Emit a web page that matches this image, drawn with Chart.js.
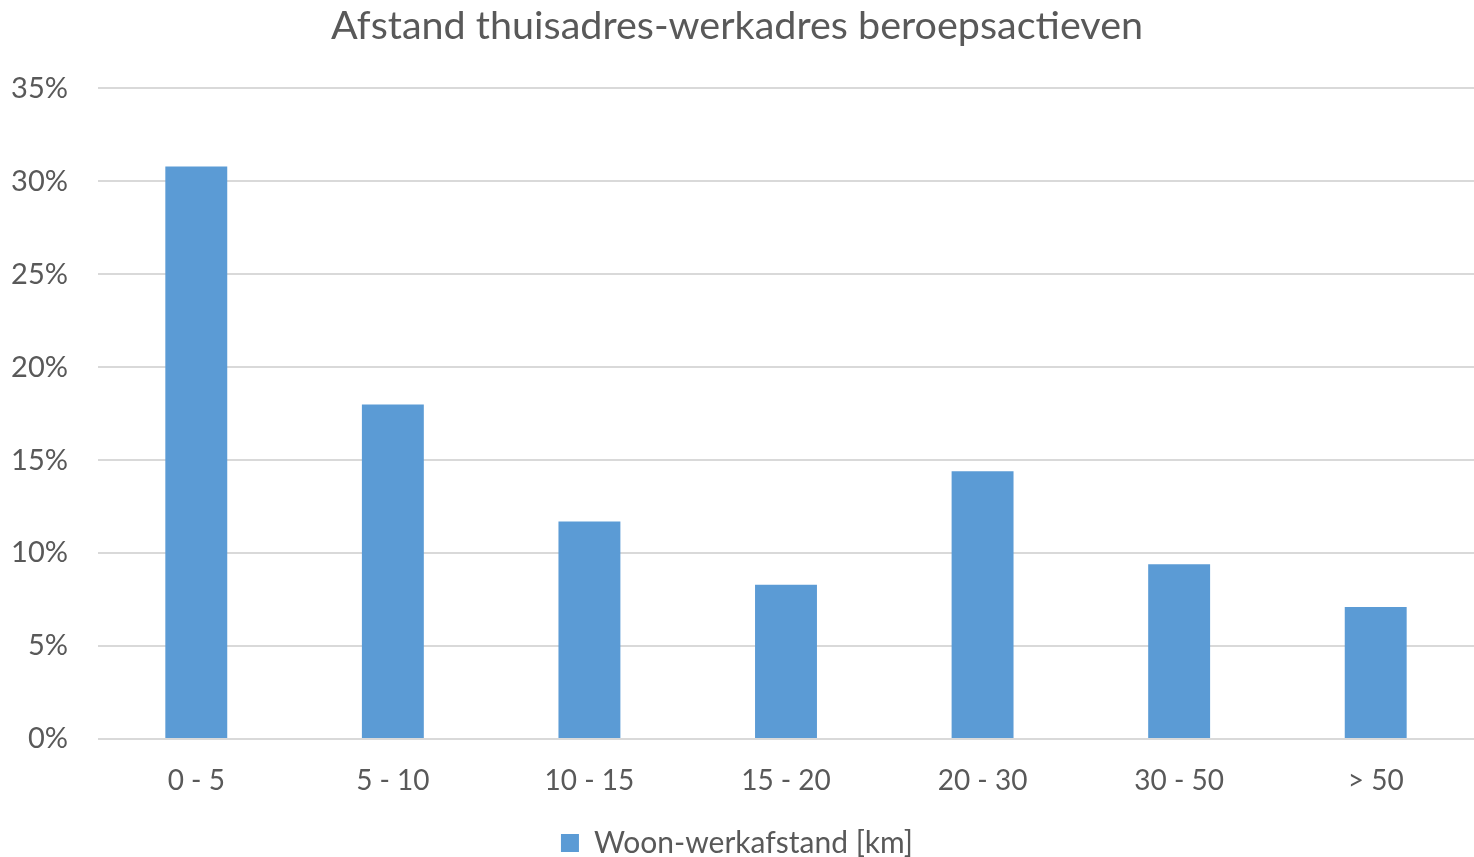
<!DOCTYPE html>
<html>
<head>
<meta charset="utf-8">
<script src="https://cdn.jsdelivr.net/npm/chart.js@4"></script>
<style>
  html, body { margin: 0; padding: 0; background: #fff; }
  #wrap { width: 1474px; height: 857px; }
</style>
</head>
<body>
<div id="wrap"><canvas id="afstandChart" width="1474" height="857"></canvas></div>
<script>
// afstand woon-werk, aandeel beroepsactieven
const categories = ["0 - 5", "5 - 10", "10 - 15", "15 - 20", "20 - 30", "30 - 50", "> 50"];
const shares = [30.8, 18.0, 11.7, 8.3, 14.4, 9.4, 7.1];
const yTicks = [0, 5, 10, 15, 20, 25, 30, 35];

const TEXT = "#595959";
const FONT = "Lato, 'Open Sans', sans-serif";

const ctx = document.getElementById("afstandChart").getContext("2d");
new Chart(ctx, {
  type: "bar",
  data: {
    labels: categories,
    datasets: [{
      label: "Woon-werkafstand [km]",
      data: shares,
      backgroundColor: "#5B9BD5",
      borderWidth: 0,
      categoryPercentage: 1,
      barPercentage: 0.315
    }]
  },
  options: {
    responsive: false,
    animation: false,
    // legend sits lower than chart.js would put it, hence the negative bottom
    layout: { padding: { top: 3, right: 0, left: 0, bottom: -11 } },
    plugins: {
      title: {
        display: true,
        text: "Afstand thuisadres-werkadres beroepsactieven",
        color: TEXT,
        font: { family: FONT, size: 39.5, weight: "normal" },
        padding: { top: 0, bottom: 38 }
      },
      legend: {
        position: "bottom",
        labels: {
          color: TEXT,
          font: { family: FONT, size: 30 },
          boxWidth: 18,
          boxHeight: 18,
          padding: 1
        }
      },
      tooltip: { enabled: false }
    },
    scales: {
      y: {
        min: 0,
        max: 35,
        afterBuildTicks: axis => { axis.ticks = yTicks.map(v => ({ value: v })); },
        afterFit: axis => { axis.width = 98; },
        border: { display: false },
        grid: { color: "#D9D9D9", lineWidth: 2, drawTicks: false },
        ticks: {
          color: TEXT,
          font: { family: FONT, size: 29 },
          padding: 30,
          callback: v => v + "%"
        }
      },
      x: {
        afterFit: axis => { axis.height = 88; },
        border: { display: false },
        grid: { display: false },
        ticks: {
          color: TEXT,
          font: { family: FONT, size: 28 },
          padding: 17
        }
      }
    }
  }
});
</script>
</body>
</html>
